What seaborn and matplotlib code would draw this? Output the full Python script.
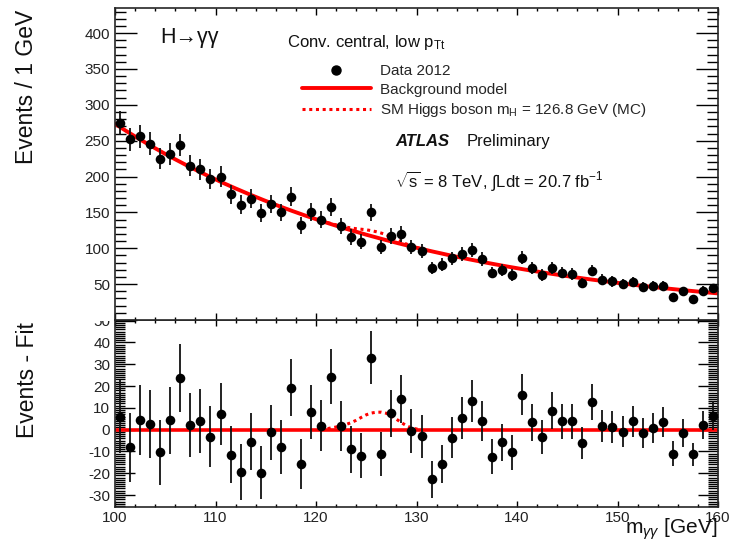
import numpy as np
import pandas as pd
import matplotlib
matplotlib.use("Agg")
import matplotlib.pyplot as plt
import seaborn as sns
from matplotlib.ticker import MultipleLocator, FuncFormatter
from matplotlib.lines import Line2D
from matplotlib.transforms import Bbox, TransformedBbox

# ---- data: diphoton invariant mass, 1 GeV bins from 100 to 160 GeV ----
mass_min, mass_max, bin_width = 100.0, 160.0, 1.0
events = [275, 252, 256, 246, 225, 232, 244, 215, 210, 196,
          200, 175, 161, 169, 149, 162, 150, 172, 132, 151,
          140, 158, 131, 116, 109, 150, 102, 117, 120, 102,
          96, 73, 77, 86, 92, 97, 85, 66, 70, 63,
          87, 72, 63, 73, 66, 64, 52, 69, 56, 54,
          50, 53, 46, 47, 48, 32, 40, 29, 41, 44]

# exponential background model: norm at 100 GeV, slope per GeV
bkg_norm, bkg_slope = 273.5, -0.0333

# SM Higgs signal shape (MC), events per GeV
sig_mass = [120.5, 121.0, 121.5, 122.0, 122.5, 123.0, 123.5, 124.0, 124.5, 125.0,
            125.5, 126.0, 126.5, 127.0, 127.5, 128.0, 128.5, 129.0, 129.5, 130.0, 130.5]
sig_yield = [0.0, 0.3, 0.8, 1.2, 1.8, 2.4, 3.2, 4.3, 5.6, 6.8,
             7.6, 8.0, 8.0, 7.5, 6.3, 4.8, 3.2, 1.8, 0.8, 0.3, 0.0]


def background(m):
    return bkg_norm * np.exp(bkg_slope * (np.asarray(m) - mass_min))


centres = np.arange(mass_min + bin_width / 2, mass_max, bin_width)
counts = np.asarray(events, dtype=float)
errors = np.sqrt(counts)
residual = counts - background(centres)

data = pd.DataFrame({"m": centres, "n": counts, "err": errors, "res": residual})
grid = np.linspace(mass_min, mass_max, 301)
bkg_df = pd.DataFrame({"m": grid, "bkg": background(grid), "zero": np.zeros_like(grid)})
sig_df = pd.DataFrame({"m": sig_mass,
                       "sb": background(sig_mass) + np.asarray(sig_yield),
                       "s": sig_yield})

# ---- style ----
sns.set_theme(style="ticks")
plt.rcParams["font.family"] = ["Liberation Sans", "DejaVu Sans"]
plt.rcParams["mathtext.fontset"] = "custom"
plt.rcParams["mathtext.rm"] = "Liberation Sans"
plt.rcParams["mathtext.it"] = "Liberation Sans:italic"
plt.rcParams["mathtext.bf"] = "Liberation Sans:bold"
plt.rcParams["axes.linewidth"] = 1.2
plt.rcParams["axes.unicode_minus"] = False

RED = "#ff0000"
W, H = 730, 543
fig = plt.figure(figsize=(W / 100, H / 100), dpi=100)
ax_bot = fig.add_axes([115 / W, 1 - 507 / H, 603 / W, 187 / H])
ax_top = fig.add_axes([115 / W, 1 - 320 / H, 603 / W, 312 / H])

# ---- top panel: spectrum ----
sns.lineplot(data=bkg_df, x="m", y="bkg", ax=ax_top, color=RED, lw=2.8, zorder=2)
sns.lineplot(data=sig_df, x="m", y="sb", ax=ax_top, color=RED, lw=2.2,
             linestyle=(0, (1, 1.2)), zorder=2)
ax_top.errorbar(data["m"], data["n"], yerr=data["err"], fmt="none",
                ecolor="#111111", elinewidth=1.3, capsize=0, zorder=3)
sns.scatterplot(data=data, x="m", y="n", ax=ax_top, color="black", s=48,
                edgecolor="black", linewidth=0, zorder=4)

ax_top.set_xlim(mass_min, mass_max)
ax_top.set_ylim(0, 435)
ax_top.yaxis.set_major_locator(MultipleLocator(50))
ax_top.yaxis.set_minor_locator(MultipleLocator(10))
ax_top.yaxis.set_major_formatter(FuncFormatter(lambda v, p: "" if v <= 0 else f"{v:.0f}"))
ax_top.xaxis.set_major_locator(MultipleLocator(10))
ax_top.xaxis.set_minor_locator(MultipleLocator(2))
ax_top.tick_params(which="both", direction="in", top=True, right=True,
                   labelbottom=False, colors="black", labelcolor="#222222",
                   labelsize=11, width=1.0)
ax_top.tick_params(axis="y", which="major", length=15.5, pad=3.5)
ax_top.tick_params(axis="y", which="minor", length=7.7)
ax_top.tick_params(axis="x", which="major", length=5)
ax_top.tick_params(axis="x", which="minor", length=2.5)
ax_top.set_xlabel("")
ax_top.set_ylabel("")
for sp in ax_top.spines.values():
    sp.set_visible(True)

# legend
handles = [
    Line2D([], [], color="black", marker="o", markersize=6.5, linestyle="none"),
    Line2D([], [], color=RED, lw=2.8),
    Line2D([], [], color=RED, lw=2.2, linestyle=(0, (1, 1.2))),
]
labels = ["Data 2012", "Background model",
          r"SM Higgs boson m$_{\mathrm{H}}$ = 126.8 GeV (MC)"]
ax_top.legend(handles, labels, loc="upper left",
              bbox_to_anchor=((302 - 115) / 603, (320 - 64) / 312),
              frameon=False, fontsize=11, handlelength=4.5, handletextpad=0.6,
              labelspacing=0.3, borderpad=0, borderaxespad=0)

# annotations
fig.text(160 / W, 1 - 37 / H, "H\u2192\u03b3\u03b3", fontsize=15.5,
         ha="left", va="center", color="#111111")
fig.text(287 / W, 1 - 47 / H, r"Conv. central, low p$_{\mathrm{Tt}}$",
         fontsize=12, ha="left", va="baseline", color="#111111")
fig.text(395 / W, 1 - 146 / H, "ATLAS", fontsize=12, fontweight="bold",
         fontstyle="italic", ha="left", va="baseline", color="#111111")
fig.text(467 / W, 1 - 146 / H, "Preliminary", fontsize=12,
         ha="left", va="baseline", color="#111111")
fig.text(395 / W, 1 - 187 / H,
         r"$\sqrt{\mathrm{s}}$ = 8 TeV, $\int$Ldt = 20.7 fb$^{\mathrm{-1}}$",
         fontsize=12, ha="left", va="baseline", color="#111111")

# ---- bottom panel: residuals ----
sns.lineplot(data=bkg_df, x="m", y="zero", ax=ax_bot, color=RED, lw=2.6, zorder=2)
sns.lineplot(data=sig_df, x="m", y="s", ax=ax_bot, color=RED, lw=2.2,
             linestyle=(0, (1, 1.2)), zorder=2)
ax_bot.errorbar(data["m"], data["res"], yerr=data["err"], fmt="none",
                ecolor="#111111", elinewidth=1.3, capsize=0, zorder=3)
sns.scatterplot(data=data, x="m", y="res", ax=ax_bot, color="black", s=48,
                edgecolor="black", linewidth=0, zorder=4)

ax_bot.set_xlim(mass_min, mass_max)
ax_bot.set_ylim(-35.5, 50.3)
ax_bot.yaxis.set_major_locator(MultipleLocator(10))
ax_bot.yaxis.set_minor_locator(MultipleLocator(1))
ax_bot.xaxis.set_major_locator(MultipleLocator(10))
ax_bot.xaxis.set_minor_locator(MultipleLocator(2))
ax_bot.tick_params(which="both", direction="in", top=True, right=True,
                   colors="black", labelcolor="#222222", labelsize=11, width=1.0)
ax_bot.tick_params(axis="y", which="major", length=14.5, pad=3.5)
ax_bot.tick_params(axis="y", which="minor", length=7)
ax_bot.tick_params(axis="x", which="major", length=4.5, pad=3)
ax_bot.tick_params(axis="x", which="minor", length=2.2)
ax_bot.set_xlabel("")
ax_bot.set_ylabel("")
for sp in ax_bot.spines.values():
    sp.set_visible(True)

# the uppermost residual label sits on the panel seam: show only its lower half
fig.canvas.draw()
seam_clip = TransformedBbox(Bbox([[0.0, 0.0], [115 / W, 1 - 321 / H]]), fig.transFigure)
for tick in ax_bot.yaxis.get_major_ticks():
    if abs(tick.get_loc() - 50) < 1e-6:
        tick.label1.set_clip_box(seam_clip)
        tick.label1.set_clip_on(True)

# axis titles
fig.text(27 / W, 1 - 10 / H, "Events / 1 GeV", rotation=90, fontsize=16.5,
         ha="center", va="top", color="#111111")
fig.text(27 / W, 1 - 322 / H, "Events - Fit", rotation=90, fontsize=16.5,
         ha="center", va="top", color="#111111")
fig.text(717 / W, 1 - 534 / H, r"m$_{\gamma\gamma}$ [GeV]", fontsize=15,
         ha="right", va="baseline", color="#111111")

fig.savefig("out.png", dpi=100)
